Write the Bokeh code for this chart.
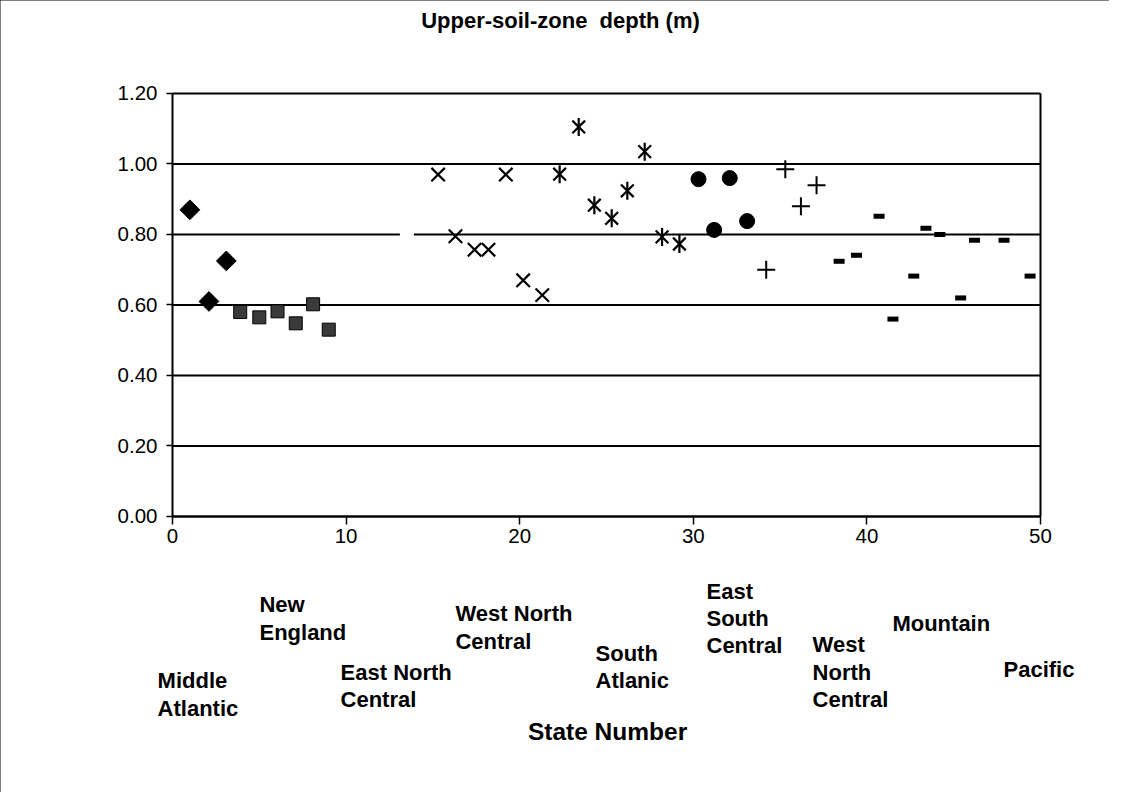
from math import pi
from bokeh.plotting import figure
from bokeh.models import Label, FixedTicker, NumeralTickFormatter, Range1d, LinearAxis
from bokeh.embed import file_html
from bokeh.resources import INLINE

# ---- data (state number, upper-soil-zone depth in m) ----
mid_atlantic_x = [1.0, 2.1, 3.1]
mid_atlantic_y = [0.870, 0.610, 0.725]
new_england_x = [3.9, 5.0, 6.05, 7.1, 8.1, 9.0]
new_england_y = [0.580, 0.565, 0.582, 0.548, 0.602, 0.530]
east_north_central_x = [13.5]
east_north_central_y = [0.800]
west_north_central_x = [15.3, 16.3, 17.4, 18.2, 19.2, 20.2, 21.3]
west_north_central_y = [0.970, 0.795, 0.757, 0.757, 0.970, 0.670, 0.628]
south_atlantic_x = [22.3, 23.4, 24.3, 25.3, 26.2, 27.2, 28.2, 29.2]
south_atlantic_y = [0.971, 1.105, 0.883, 0.846, 0.924, 1.035, 0.793, 0.773]
east_south_central_x = [30.3, 31.2, 32.1, 33.1]
east_south_central_y = [0.957, 0.813, 0.960, 0.838]
west_south_central_x = [34.2, 35.3, 36.2, 37.1]
west_south_central_y = [0.700, 0.985, 0.880, 0.940]
mountain_x = [38.4, 39.4, 40.7, 41.5, 42.7, 43.4, 44.2, 45.4]
mountain_y = [0.724, 0.741, 0.852, 0.560, 0.682, 0.818, 0.800, 0.620]
pacific_x = [46.2, 47.9, 49.4]
pacific_y = [0.784, 0.784, 0.682]

x_ticks = [0, 10, 20, 30, 40, 50]
y_ticks = [0.0, 0.2, 0.4, 0.6, 0.8, 1.0, 1.2]

region_names = ["Middle\nAtlantic", "New\nEngland", "East North\nCentral",
                "West North\nCentral", "South\nAtlanic", "East\nSouth\nCentral",
                "West\nNorth\nCentral", "Mountain", "Pacific"]
# annotation anchor positions (data coords of text top-left)
region_label_x = [-0.86, 5.01, 9.68, 16.30, 24.37, 30.76, 36.87, 41.47, 47.87]
region_label_y = [-0.431, -0.215, -0.406, -0.241, -0.352, -0.176, -0.329, -0.267, -0.400]

FONT = "Liberation Sans"
W, H = 1109, 792

# the frame fills the whole canvas; axes are pinned at x=0 / y=0
p = figure(width=W, height=H, output_backend="svg", toolbar_location=None,
           x_range=Range1d(-9.908, 53.975), y_range=Range1d(-0.783, 1.4638),
           x_axis_location=None, y_axis_location=None,
           min_border=0, min_border_left=0, min_border_right=0,
           min_border_top=0, min_border_bottom=0)
p.styles = {"outline": "1.5px solid black", "outline-offset": "-1px"}
p.outline_line_color = None
p.xgrid.visible = False
p.ygrid.visible = False

# horizontal grid lines (at the y ticks, across the x extent)
p.segment(x0=[x_ticks[0]] * len(y_ticks), x1=[x_ticks[-1]] * len(y_ticks),
          y0=y_ticks, y1=y_ticks, line_color="black", line_width=2)
# right edge of plot box
p.segment(x0=[x_ticks[-1]], x1=[x_ticks[-1]], y0=[y_ticks[0]], y1=[y_ticks[-1]],
          line_color="black", line_width=2)

yax = LinearAxis(fixed_location=0, bounds=(0, 1.2),
                 ticker=FixedTicker(ticks=y_ticks),
                 formatter=NumeralTickFormatter(format="0.00"))
xax = LinearAxis(fixed_location=0, bounds=(0, 50),
                 ticker=FixedTicker(ticks=x_ticks))
p.add_layout(yax, "left")
p.add_layout(xax, "below")
for ax in (xax, yax):
    ax.axis_line_color = "black"
    ax.axis_line_width = 2
    ax.major_tick_line_color = "black"
    ax.major_tick_line_width = 1.5
    ax.major_tick_in = 0
    ax.minor_tick_line_color = None
    ax.major_label_text_font = FONT
    ax.major_label_text_font_size = "20.5px"
    ax.major_label_text_color = "black"
xax.major_tick_out = 8
yax.major_tick_out = 6
xax.major_label_standoff = 5
yax.major_label_standoff = 9

# markers
p.scatter(mid_atlantic_x, mid_atlantic_y, marker="square", size=14, angle=pi / 4,
          fill_color="black", line_color="black")
p.scatter(new_england_x, new_england_y, marker="square", size=13,
          fill_color="#3a3a3a", line_color="black")
p.scatter(east_north_central_x, east_north_central_y, marker="square", size=14,
          fill_color="white", line_color=None)
p.scatter(west_north_central_x, west_north_central_y, marker="x", size=19,
          line_color="black", line_width=2.2)
p.scatter(south_atlantic_x, south_atlantic_y, marker="x", size=18,
          line_color="black", line_width=2.2)
p.scatter(south_atlantic_x, south_atlantic_y, marker="dash", size=18, angle=pi / 2,
          line_color="black", line_width=2.2)
p.scatter(east_south_central_x, east_south_central_y, marker="circle", size=15,
          fill_color="black", line_color="black")
p.scatter(west_south_central_x, west_south_central_y, marker="cross", size=18,
          line_color="black", line_width=2)
p.scatter(mountain_x, mountain_y, marker="dash", size=11,
          line_color="black", line_width=5)
p.scatter(pacific_x, pacific_y, marker="dash", size=11,
          line_color="black", line_width=5)

# title (second space kept as a no-break space so it is not collapsed)
p.add_layout(Label(x=22.35, y=1.4057, text="Upper-soil-zone \u00a0depth (m)",
                   text_font=FONT, text_font_style="bold", text_font_size="22px",
                   text_align="center", text_baseline="middle", text_color="black"))
# x-axis title
p.add_layout(Label(x=25.06, y=-0.610, text="State Number",
                   text_font=FONT, text_font_style="bold", text_font_size="24.5px",
                   text_align="center", text_baseline="middle", text_color="black"))
# region names
for name, lx, ly in zip(region_names, region_label_x, region_label_y):
    p.add_layout(Label(x=lx, y=ly, text=name, text_font=FONT,
                       text_font_style="bold", text_font_size="22px",
                       text_align="left", text_baseline="top",
                       text_line_height=1.09, text_color="black"))

open("out.html", "w").write(file_html(p, INLINE))
